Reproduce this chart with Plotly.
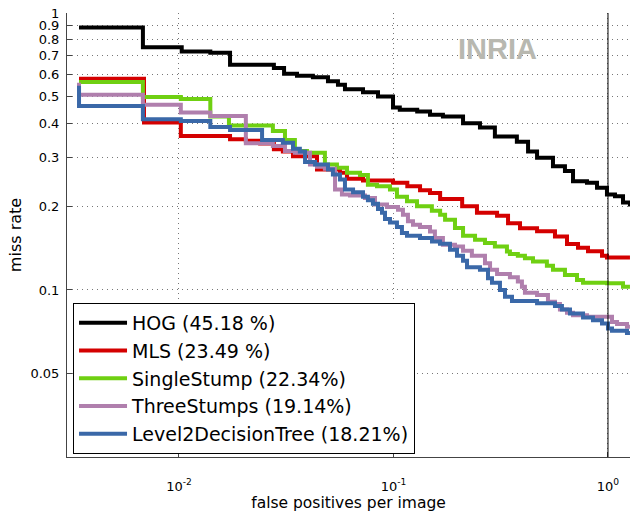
import plotly.graph_objects as go

# ---- data (fppi, miss rate) ----
hog_fppi = [0.00342, 0.00679, 0.0103, 0.0140, 0.0173, 0.0277, 0.0309, 0.0355, 0.0421, 0.0495,
            0.0551, 0.0594, 0.0721, 0.0847, 0.0995, 0.107, 0.129, 0.148, 0.170, 0.211,
            0.253, 0.297, 0.376, 0.424, 0.467, 0.554, 0.630, 0.687, 0.798, 0.889,
            0.989, 1.078, 1.175, 1.266]
hog_mr = [0.887, 0.753, 0.726, 0.718, 0.651, 0.633, 0.604, 0.594, 0.586, 0.567,
          0.551, 0.531, 0.517, 0.500, 0.456, 0.447, 0.441, 0.429, 0.423, 0.400,
          0.386, 0.358, 0.343, 0.316, 0.300, 0.280, 0.269, 0.247, 0.244, 0.234,
          0.221, 0.218, 0.207, 0.200]

mls_fppi = [0.00342, 0.00687, 0.0102, 0.0173, 0.0205, 0.0239, 0.0277, 0.0305, 0.0340, 0.0440,
            0.0563, 0.0607, 0.0721, 0.0995, 0.116, 0.133, 0.148, 0.165, 0.209, 0.245,
            0.304, 0.342, 0.389, 0.467, 0.566, 0.644, 0.725, 0.807, 0.938, 0.989, 1.266]
mls_mr = [0.579, 0.402, 0.360, 0.350, 0.346, 0.338, 0.322, 0.316, 0.304, 0.272,
          0.265, 0.252, 0.2485, 0.244, 0.237, 0.229, 0.224, 0.213, 0.2005, 0.190,
          0.1855, 0.174, 0.167, 0.163, 0.156, 0.1465, 0.142, 0.138, 0.133, 0.131, 0.131]

ss_fppi = [0.00342, 0.00679, 0.0102, 0.0140, 0.0171, 0.0274, 0.0312, 0.0347, 0.0395, 0.0479,
           0.0545, 0.0607, 0.0698, 0.0760, 0.0838, 0.0963, 0.1038, 0.1156, 0.1287, 0.151,
           0.165, 0.174, 0.1935, 0.211, 0.240, 0.267, 0.297, 0.338, 0.349, 0.380,
           0.410, 0.447, 0.519, 0.554, 0.630, 0.717, 0.765, 0.989, 1.175, 1.266]
ss_mr = [0.563, 0.497, 0.489, 0.423, 0.3925, 0.375, 0.348, 0.3175, 0.313, 0.284,
         0.276, 0.265, 0.260, 0.240, 0.237, 0.2305, 0.217, 0.209, 0.2005, 0.1934,
         0.187, 0.1794, 0.1674, 0.157, 0.1518, 0.1477, 0.1435, 0.1377, 0.135, 0.1328,
         0.1303, 0.1266, 0.1222, 0.1182, 0.1133, 0.1087, 0.1063, 0.1057, 0.1028, 0.1028]

ts_fppi = [0.00342, 0.00342, 0.00679, 0.0102, 0.0140, 0.0205, 0.0274, 0.0312, 0.0347, 0.0408,
           0.0440, 0.0479, 0.0534, 0.0575, 0.0627, 0.0736, 0.0820, 0.0933, 0.105, 0.1107,
           0.1168, 0.1233, 0.1329, 0.148, 0.156, 0.170, 0.1935, 0.211, 0.232, 0.267,
           0.282, 0.304, 0.349, 0.380, 0.397, 0.410, 0.467, 0.525, 0.566, 0.597,
           0.644, 0.687, 0.798, 1.044, 1.102, 1.226, 1.266]
ts_mr = [0.56, 0.507, 0.466, 0.4375, 0.425, 0.3385, 0.331, 0.3175, 0.313, 0.284,
         0.2786, 0.274, 0.2305, 0.221, 0.2193, 0.215, 0.2034, 0.1995, 0.195, 0.187,
         0.1769, 0.172, 0.1688, 0.1627, 0.154, 0.1456, 0.1435, 0.1385, 0.1328, 0.125,
         0.1182, 0.1143, 0.1112, 0.1072, 0.1028, 0.0978, 0.0959, 0.0907, 0.0890, 0.0851,
         0.0827, 0.0811, 0.0800, 0.0767, 0.0753, 0.0736, 0.0736]

l2_fppi = [0.00342, 0.00342, 0.00679, 0.0102, 0.0140, 0.0173, 0.0244, 0.0305, 0.0340, 0.0366,
           0.0387, 0.0431, 0.0495, 0.0522, 0.0563, 0.0594, 0.0648, 0.0721, 0.0760, 0.0802,
           0.0847, 0.0884, 0.0913, 0.0963, 0.1038, 0.1095, 0.1156, 0.1329, 0.1512, 0.1647,
           0.1834, 0.1977, 0.211, 0.2202, 0.253, 0.2758, 0.2879, 0.3136, 0.331, 0.3568,
           0.467, 0.566, 0.610, 0.665, 0.765, 0.851, 0.938, 1.0, 1.044, 1.226, 1.266]
l2_mr = [0.546, 0.462, 0.4136, 0.4078, 0.388, 0.3783, 0.348, 0.3404, 0.3238, 0.316,
         0.2895, 0.284, 0.272, 0.2613, 0.2506, 0.2305, 0.2254, 0.217, 0.2108, 0.2046,
         0.1962, 0.190, 0.1805, 0.1754, 0.1688, 0.1606, 0.157, 0.154, 0.1497, 0.1468,
         0.1397, 0.1328, 0.1274, 0.1209, 0.1182, 0.1103, 0.1063, 0.1000, 0.0946, 0.0912,
         0.0895, 0.0875, 0.0851, 0.0823, 0.0796, 0.0778, 0.0757, 0.0726, 0.0712, 0.0700, 0.0700]

series_names = ["HOG (45.18 %)", "MLS (23.49 %)", "SingleStump (22.34%)",
                "ThreeStumps (19.14%)", "Level2DecisionTree (18.21%)"]
series_colors = ["#000000", "#d40000", "#6fd012", "#b07fad", "#3a68a8"]

x_tickvals = [0.01, 0.1, 1]
x_ticktext = ["10<sup>-2</sup>", "10<sup>-1</sup>", "10<sup>0</sup>"]
y_tickvals = [0.05, 0.1, 0.2, 0.3, 0.4, 0.5, 0.6, 0.7, 0.8, 0.9, 1]
y_ticktext = ["0.05", "0.1", "0.2", "0.3", "0.4", "0.5", "0.6", "0.7", "0.8", "0.9", "1"]

FONT = "DejaVu Sans, Liberation Sans, Arial, sans-serif"
BOLD_FONT = "Liberation Sans, Arial, Helvetica, sans-serif"

fig = go.Figure()
all_x = [hog_fppi, mls_fppi, ss_fppi, ts_fppi, l2_fppi]
all_y = [hog_mr, mls_mr, ss_mr, ts_mr, l2_mr]
for xs, ys, name, col in zip(all_x, all_y, series_names, series_colors):
    fig.add_trace(go.Scatter(x=xs, y=ys, mode="lines", name=name,
                             line=dict(color=col, width=4, shape="hv")))

fig.add_shape(type="line", xref="x", yref="paper", x0=1, x1=1, y0=0, y1=1,
              line=dict(color="#000000", width=1), layer="above")

fig.add_annotation(text="<b>INRIA</b>", xref="paper", yref="paper",
                   x=0.764, y=0.92, xanchor="center", yanchor="middle",
                   showarrow=False, font=dict(family=BOLD_FONT, size=29, color="#b8b8b0"))

fig.update_layout(
    width=630, height=514,
    margin=dict(l=67, r=0, t=13, b=57),
    paper_bgcolor="white", plot_bgcolor="white",
    font=dict(family=FONT, color="#000000"),
    showlegend=True,
    legend=dict(x=0.0107, y=0.0068, xanchor="left", yanchor="bottom",
                bgcolor="white", bordercolor="#000000", borderwidth=1,
                font=dict(family=FONT, size=19, color="#000000"),
                itemwidth=48, tracegroupgap=0),
)
fig.update_xaxes(type="log", range=[-2.522, 0.1026],
                 tickvals=x_tickvals, ticktext=x_ticktext,
                 ticks="inside", ticklen=5, tickcolor="#444",
                 tickfont=dict(family=FONT, size=13),
                 showgrid=True, gridcolor="#777", griddash="1px,4px", gridwidth=1,
                 showline=True, linecolor="#444", linewidth=1, zeroline=False,
                 ticklabelstandoff=17,
                 title=dict(text="false positives per image", font=dict(family=FONT, size=15.5),
                            standoff=0))
fig.update_yaxes(type="log", range=[-1.603, 0.0],
                 tickvals=y_tickvals, ticktext=y_ticktext,
                 ticks="inside", ticklen=5, tickcolor="#444",
                 tickfont=dict(family=FONT, size=13),
                 showgrid=True, gridcolor="#777", griddash="1px,4px", gridwidth=1,
                 showline=True, linecolor="#444", linewidth=1, zeroline=False,
                 ticklabelstandoff=4,
                 title=dict(text="miss rate", font=dict(family=FONT, size=16), standoff=4))

fig.write_html("out.html")
